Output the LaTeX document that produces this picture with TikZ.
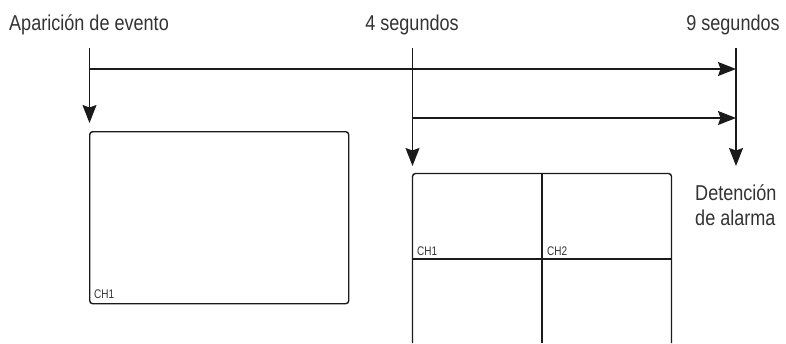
\documentclass[tikz,border=0pt]{standalone}
\usepackage{fontspec}
\setmainfont[FakeStretch=0.84]{Liberation Sans}
\newfontfamily\chfont[FakeStretch=0.8]{Liberation Sans}
\usetikzlibrary{arrows.meta}
\definecolor{txt}{HTML}{333333}
\definecolor{ln}{HTML}{1A1A1A}
\tikzset{
  lbl/.style={inner sep=0pt, text=txt, font=\fontsize{21.5}{25}\selectfont},
  chlbl/.style={inner sep=0pt, text=txt, font=\chfont\fontsize{12.5}{14}\selectfont, anchor=base west},
  line/.style={draw=ln, line width=1.5pt},
  arr/.style={line, -{Stealth[length=18pt, width=14pt, inset=2.5pt]}},
  screen/.style={draw=ln, line width=1.4pt, rounded corners=3pt},
  grid/.style={draw=ln, line width=1.3pt}
}
\begin{document}
\begin{tikzpicture}[x=1pt, y=-1pt]
\useasboundingbox (0,0) rectangle (786,343);
% labels
\node[lbl, anchor=base west] (ev) at (9,30) {Aparición de evento};
\node[lbl, anchor=base] (s4) at (412,30) {4 segundos};
\node[lbl, anchor=base] (s9) at (733,30) {9 segundos};
\node[lbl, anchor=base west] (det) at (695,200) {Detención};
\node[lbl, anchor=base west] (det2) at (695,225) {de alarma};
% coordinates
\coordinate (t0) at (89.5,48);
\coordinate (b0) at (89.5,123);
\coordinate (t4) at (412.5,48);
\coordinate (b4) at (412.5,166);
\coordinate (t9) at (736,48);
\coordinate (b9) at (736,166);
\coordinate (h1s) at (89.5,69);
\coordinate (h1e) at (736,69);
\coordinate (h2s) at (412.5,118);
\coordinate (h2e) at (736,118);
% timeline
\draw[arr] (t0) -- (b0);
\draw[arr] (t4) -- (b4);
\draw[arr] (t9) -- (b9);
\draw[arr] (h1s) -- (h1e);
\draw[arr] (h2s) -- (h2e);
% single screen
\node[screen, anchor=north west, minimum width=259pt, minimum height=172pt, inner sep=0pt] (scr1) at (89,131) {};
\node[chlbl] (c1) at (94,298) {CH1};
% quad screen (cut at bottom)
\coordinate (qbl) at (412.5,343);
\coordinate (qtl) at (412.5,173.5);
\coordinate (qtr) at (671.5,173.5);
\coordinate (qbr) at (671.5,343);
\draw[screen] (qbl) -- (qtl) -- (qtr) -- (qbr);
\coordinate (qvt) at (542,173.5);
\coordinate (qvb) at (542,343);
\coordinate (qhl) at (412.5,259);
\coordinate (qhr) at (671.5,259);
\draw[grid] (qvt) -- (qvb);
\draw[grid] (qhl) -- (qhr);
\node[chlbl] (q1) at (417,255) {CH1};
\node[chlbl] (q2) at (547,255) {CH2};
\end{tikzpicture}
\end{document}
